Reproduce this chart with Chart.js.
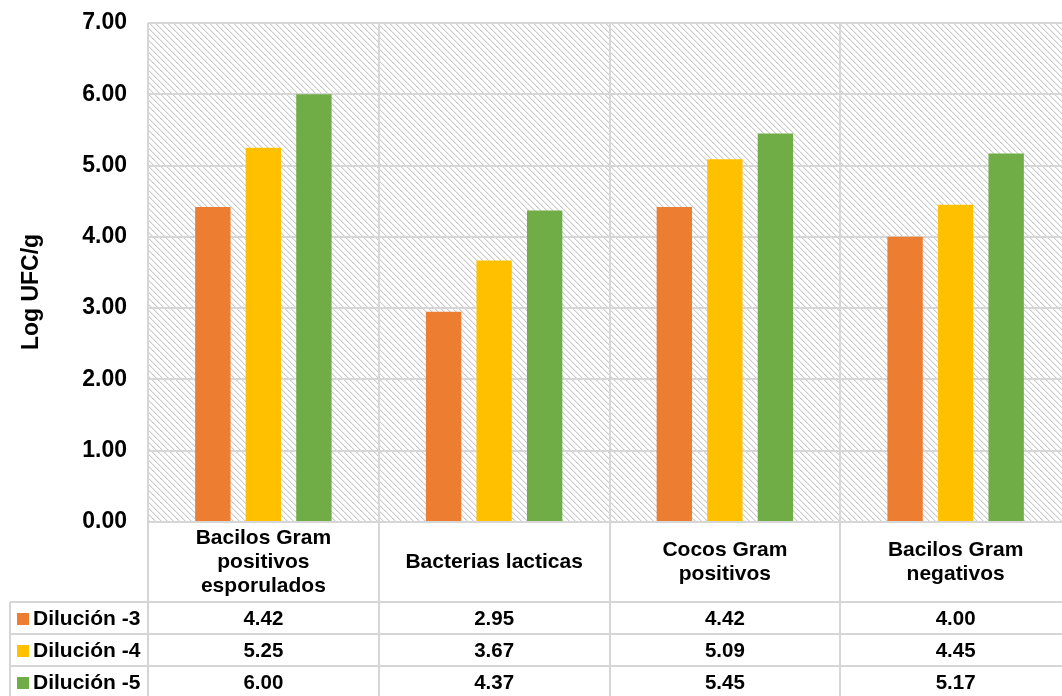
<!DOCTYPE html>
<html>
<head>
<meta charset="utf-8">
<script src="https://cdn.jsdelivr.net/npm/chart.js@4/dist/chart.umd.min.js"></script>
<style>
  html, body { margin: 0; padding: 0; background: #fff; overflow: hidden; }
  #wrap { width: 1062px; height: 696px; overflow: hidden; position: relative; }
  canvas { position: absolute; left: 0; top: 0; }
</style>
</head>
<body>
<div id="wrap"><canvas id="chart" width="1080" height="696"></canvas></div>
<script>
// Bacterial groups (category labels, split into lines)
const categories = [
  ['Bacilos Gram', 'positivos', 'esporulados'],
  ['Bacterias lacticas'],
  ['Cocos Gram', 'positivos'],
  ['Bacilos Gram', 'negativos']
];
// Log UFC/g per dilution
const dilucion3 = [4.42, 2.95, 4.42, 4.00];
const dilucion4 = [5.25, 3.67, 5.09, 4.45];
const dilucion5 = [6.00, 4.37, 5.45, 5.17];
const seriesNames = ['Dilución -3', 'Dilución -4', 'Dilución -5'];
const seriesColors = ['#ED7D31', '#FFC000', '#70AD47'];
const yTicks = [0, 1, 2, 3, 4, 5, 6, 7];

const FONT = '"Liberation Sans", Arial, sans-serif';
const LINE = '#d6d6d6';

// Diagonal hatch used as the plot-area background
function makeHatch() {
  const n = 6;
  const c = document.createElement('canvas');
  c.width = n; c.height = n;
  const g = c.getContext('2d');
  g.fillStyle = '#ffffff';
  g.fillRect(0, 0, n, n);
  for (let i = 0; i < n; i++) {
    g.fillStyle = '#cdcdcd';
    g.fillRect(i, i, 1, 1);
    g.fillStyle = '#e9e9e9';
    g.fillRect((i + 1) % n, i, 1, 1);
  }
  return g.createPattern(c, 'repeat');
}

const hatchBackground = {
  id: 'hatchBackground',
  beforeDraw(chart) {
    const { ctx, chartArea: a } = chart;
    ctx.save();
    ctx.fillStyle = makeHatch();
    ctx.fillRect(a.left, a.top, a.right - a.left, a.bottom - a.top);
    ctx.restore();
  }
};

// Data table under the x axis, plus the rotated y-axis title
const dataTable = {
  id: 'dataTable',
  afterDraw(chart) {
    const { ctx, chartArea: a } = chart;
    const x = chart.scales.x;
    const half = (x.getPixelForValue(1) - x.getPixelForValue(0)) / 2;
    const rowTop = 602, rowH = 32, nRows = chart.data.datasets.length;
    const bottom = rowTop + rowH * nRows + 2;
    const legendLeft = 10;

    ctx.save();
    ctx.strokeStyle = LINE;
    ctx.lineWidth = 2;
    ctx.beginPath();
    // vertical separators between categories
    for (let i = 0; i <= categories.length; i++) {
      const px = Math.round(x.getPixelForValue(i) - half);
      ctx.moveTo(px, a.bottom);
      ctx.lineTo(px, bottom);
    }
    // legend column left edge
    ctx.moveTo(legendLeft, rowTop);
    ctx.lineTo(legendLeft, bottom);
    // row separators
    for (let r = 0; r <= nRows; r++) {
      const py = rowTop + r * rowH;
      ctx.moveTo(legendLeft, py);
      ctx.lineTo(a.right + 10, py);
    }
    ctx.stroke();

    ctx.textBaseline = 'middle';
    chart.data.datasets.forEach((ds, r) => {
      const cy = rowTop + r * rowH + rowH / 2 + 1;
      // legend key
      ctx.fillStyle = ds.backgroundColor;
      ctx.fillRect(17, cy - 6, 12, 12);
      ctx.fillStyle = '#000';
      ctx.textAlign = 'left';
      ctx.font = 'bold 21px ' + FONT;
      ctx.fillText(ds.label, 33, cy);
      // values
      ctx.textAlign = 'center';
      ctx.font = 'bold 20.5px ' + FONT;
      ds.data.forEach((v, i) => {
        ctx.fillText(v.toFixed(2), x.getPixelForValue(i), cy);
      });
    });

    // y-axis title
    ctx.translate(32, 292);
    ctx.rotate(-Math.PI / 2);
    ctx.font = 'bold 23px ' + FONT;
    ctx.textAlign = 'center';
    ctx.fillText('Log UFC/g', 0, 0);
    ctx.restore();
  }
};

new Chart(document.getElementById('chart'), {
  type: 'bar',
  data: {
    labels: categories,
    datasets: [
      { label: seriesNames[0], data: dilucion3, backgroundColor: seriesColors[0] },
      { label: seriesNames[1], data: dilucion4, backgroundColor: seriesColors[1] },
      { label: seriesNames[2], data: dilucion5, backgroundColor: seriesColors[2] }
    ]
  },
  options: {
    responsive: false,
    animation: false,
    devicePixelRatio: 1,
    layout: { padding: { top: 23, right: 9, bottom: 94, left: 0 } },
    datasets: { bar: { categoryPercentage: 0.657, barPercentage: 0.70 } },
    plugins: { legend: { display: false }, tooltip: { enabled: false } },
    scales: {
      x: {
        grid: { offset: true, color: LINE, lineWidth: 2, drawTicks: false },
        border: { display: false },
        ticks: {
          color: '#000',
          font: { family: FONT, size: 21, weight: 'bold', lineHeight: 1.15 },
          padding: 16,
          crossAlign: 'center',
          maxRotation: 0,
          autoSkip: false
        },
        afterFit(axis) { axis.height = 80; }
      },
      y: {
        min: 0,
        max: 7,
        afterBuildTicks(axis) { axis.ticks = yTicks.map(v => ({ value: v })); },
        grid: { color: LINE, lineWidth: 2, drawTicks: false },
        border: { display: false },
        ticks: {
          color: '#000',
          padding: 21,
          font: { family: FONT, size: 23, weight: 'bold' },
          callback: v => Number(v).toFixed(2)
        },
        afterFit(axis) {
          axis.width = 148;
          axis.paddingTop = 0;
          axis.paddingBottom = 0;
        }
      }
    }
  },
  plugins: [hatchBackground, dataTable]
});
</script>
</body>
</html>
